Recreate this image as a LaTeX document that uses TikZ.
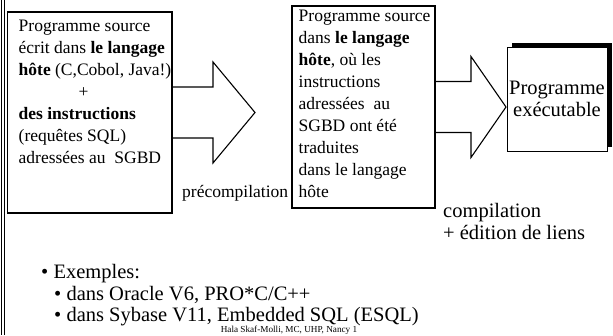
\documentclass[tikz,border=0pt]{standalone}
\usepackage{fontspec}
\setmainfont{Liberation Serif}
\usetikzlibrary{shadows}
\tikzset{
  cadre/.style={draw, line width=1.3pt, outer sep=0pt, inner sep=0pt},
  fleche/.style={draw, line width=1.1pt, line join=miter},
  texte/.style={align=left, inner sep=0pt, font=\fontsize{17.5}{21.9}\selectfont},
  grand/.style={align=left, inner sep=0pt, font=\fontsize{20.5}{22.5}\selectfont}
}
\begin{document}
\begin{tikzpicture}[x=1pt, y=-1pt]
  \useasboundingbox (0,0) rectangle (613,335);

  % bord gauche
  \draw[line width=1.1pt] (1.5,0) -- (1.5,335);
  \draw[line width=1.1pt] (4.8,0) -- (4.8,335);

  % cadres
  \node[cadre, anchor=north west, minimum width=164.5pt, minimum height=201pt] (source) at (7.5,12) {};
  \node[cadre, anchor=north west, minimum width=143pt, minimum height=202pt] (traduit) at (292,6) {};
  \node[cadre, line width=0.8pt, fill=white, anchor=north west,
        minimum width=100pt, minimum height=104pt, align=center,
        font=\fontsize{20.5}{22.5}\selectfont,
        drop shadow={shadow xshift=5pt, shadow yshift=4pt, fill=black, opacity=1}]
    (executable) at (507,47) {Programme\\exécutable};

  % textes des cadres (ancre sur la derniere ligne)
  \node[texte, anchor=base west] (texte1) at (18.5,163)
    {Programme source\\ écrit dans \textbf{le langage}\\ \textbf{hôte} (C,Cobol, Java!)\\
     \hspace*{60pt}+\\ \textbf{des instructions}\\ (requêtes SQL)\\ adressées au~~SGBD};
  \node[texte, anchor=base west] (texte2) at (298.5,197)
    {Programme source\\ dans \textbf{le langage}\\ \textbf{hôte}, où les\\ instructions\\
     adressées~~au\\ SGBD ont été\\ traduites\\ dans le langage\\ hôte};

  % fleches
  \draw[fleche] ([yshift=25.5pt]source.east) -- ++(41,0) -- ++(0,-25) -- ++(42,50.5)
    -- ++(-42,50.5) -- ++(0,-25) -- ([yshift=-25.5pt]source.east);
  \draw[fleche] ([yshift=25.5pt]traduit.east) -- ++(36,0) -- ++(0,-25) -- ++(35,50.5)
    -- ++(-35,50.5) -- ++(0,-25) -- ([yshift=-25.5pt]traduit.east);

  % etapes
  \node[texte, anchor=base west] (precomp) at (182,197) {précompilation};
  \node[grand, anchor=base west] (compil) at (443,239.5) {compilation\\+ édition de liens};

  % exemples
  \node[grand, anchor=base west] (exemples) at (41,278) {• Exemples:};
  \node[grand, anchor=base west] (oracle) at (54,300) {• dans Oracle V6, PRO*C/C++};
  \node[grand, anchor=base west] (sybase) at (54,321.5) {• dans Sybase V11, Embedded SQL (ESQL)};
  \node[inner sep=0pt, font=\fontsize{9.2}{11}\selectfont, anchor=base] (auteur) at (289,332.8)
    {Hala Skaf-Molli, MC, UHP, Nancy 1};
\end{tikzpicture}
\end{document}
